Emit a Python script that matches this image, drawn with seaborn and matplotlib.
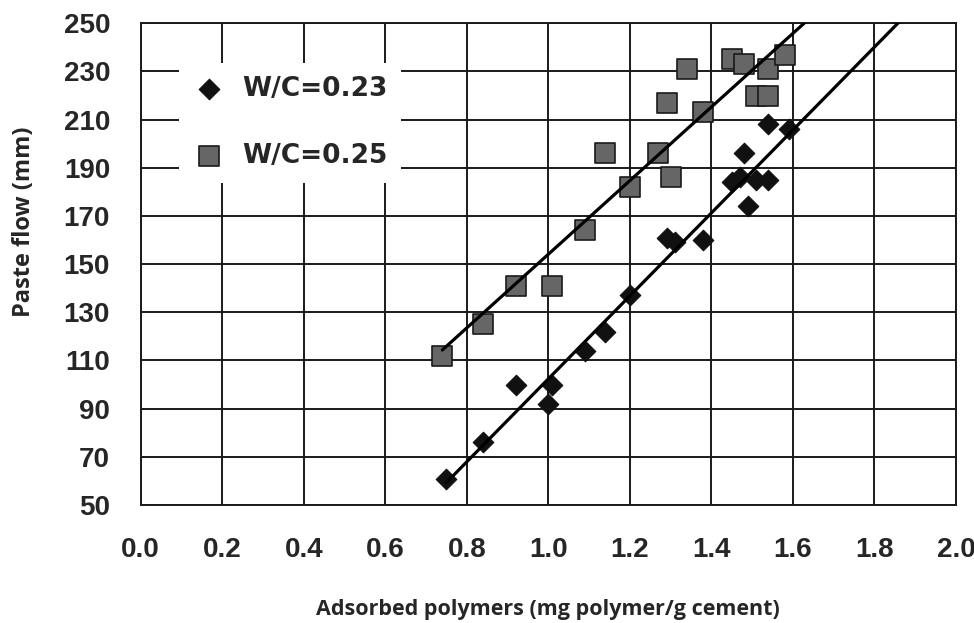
import matplotlib
matplotlib.use("Agg")
import matplotlib.pyplot as plt
import numpy as np
import seaborn as sns

# W/C = 0.23 (diamonds)
x_023 = [0.75, 0.84, 0.92, 1.00, 1.01, 1.09, 1.14, 1.20, 1.29, 1.31,
         1.38, 1.45, 1.47, 1.48, 1.49, 1.51, 1.54, 1.54, 1.59]
y_023 = [61, 76, 100, 92, 100, 114, 122, 137, 161, 159,
         160, 184, 186, 196, 174, 185, 185, 208, 206]

# W/C = 0.25 (squares)
x_025 = [0.74, 0.84, 0.92, 1.01, 1.09, 1.14, 1.20, 1.27, 1.29, 1.30,
         1.34, 1.38, 1.45, 1.48, 1.51, 1.54, 1.54, 1.58]
y_025 = [112, 125, 141, 141, 164, 196, 182, 196, 217, 186,
         231, 213, 235, 233, 220, 220, 231, 237]

labels = ["W/C=0.23", "W/C=0.25"]
x_ticks = [0.0, 0.2, 0.4, 0.6, 0.8, 1.0, 1.2, 1.4, 1.6, 1.8, 2.0]
y_ticks = [50, 70, 90, 110, 130, 150, 170, 190, 210, 230, 250]

sns.set_style("white")
plt.rcParams["font.family"] = ["Liberation Sans", "DejaVu Sans"]

fig = plt.figure(figsize=(9.74, 6.23), dpi=100)
ax = fig.add_axes([0.1444, 0.1894, 0.8371, 0.7732])

sns.scatterplot(x=x_023, y=y_023, marker="D", s=110, color="#111111",
                edgecolor="#111111", linewidth=0.8, label=labels[0],
                ax=ax, zorder=2)
sns.scatterplot(x=x_025, y=y_025, marker="s", s=190, color="#666666",
                edgecolor="#1a1a1a", linewidth=1.2, label=labels[1],
                ax=ax, zorder=2)

# linear trendlines, drawn from the first point onwards
for xs, ys in [(x_023, y_023), (x_025, y_025)]:
    k, b = np.polyfit(xs, ys, 1)
    xx = np.array([min(xs), 2.0])
    ax.plot(xx, k * xx + b, color="black", lw=2.3, zorder=3)

ax.set_xlim(0, 2.0)
ax.set_ylim(50, 250)
ax.set_xticks(x_ticks)
ax.set_xticklabels([f"{v:.1f}" for v in x_ticks])
ax.set_yticks(y_ticks)
ax.grid(True, color="#1a1a1a", lw=1.4)
ax.set_axisbelow(True)
for sp in ax.spines.values():
    sp.set_color("#1a1a1a")
    sp.set_linewidth(1.4)

ax.tick_params(axis="x", direction="out", length=8, width=1.3,
               color="#1a1a1a", pad=15, labelsize=20)
ax.tick_params(axis="y", direction="out", length=9, width=1.3,
               color="#1a1a1a", pad=13, labelsize=20)
for t in ax.get_xticklabels() + ax.get_yticklabels():
    t.set_fontweight("bold")

ax.set_xlabel("Adsorbed polymers (mg polymer/g cement)", family="Open Sans",
              fontweight="bold", fontsize=15.5, va="center")
ax.xaxis.set_label_coords(0.5, -(609 - 505) / 481.7)
ax.set_ylabel("Paste flow (mm)", family="Open Sans", fontweight="bold",
              fontsize=17, va="center")
ax.yaxis.set_label_coords((24 - 140.6) / 815.4, 1 - (222 - 23.3) / 481.7)

leg = ax.legend(loc="upper left", bbox_to_anchor=(0.047, 0.918),
                borderaxespad=0, frameon=True, fancybox=False,
                facecolor="white", edgecolor="none", framealpha=1,
                prop={"family": "DejaVu Sans", "weight": "bold", "size": 19},
                handlelength=1.3, handletextpad=0.6, labelspacing=1.57,
                borderpad=0.5)
leg.set_zorder(5)

fig.savefig("out.png", dpi=100)
